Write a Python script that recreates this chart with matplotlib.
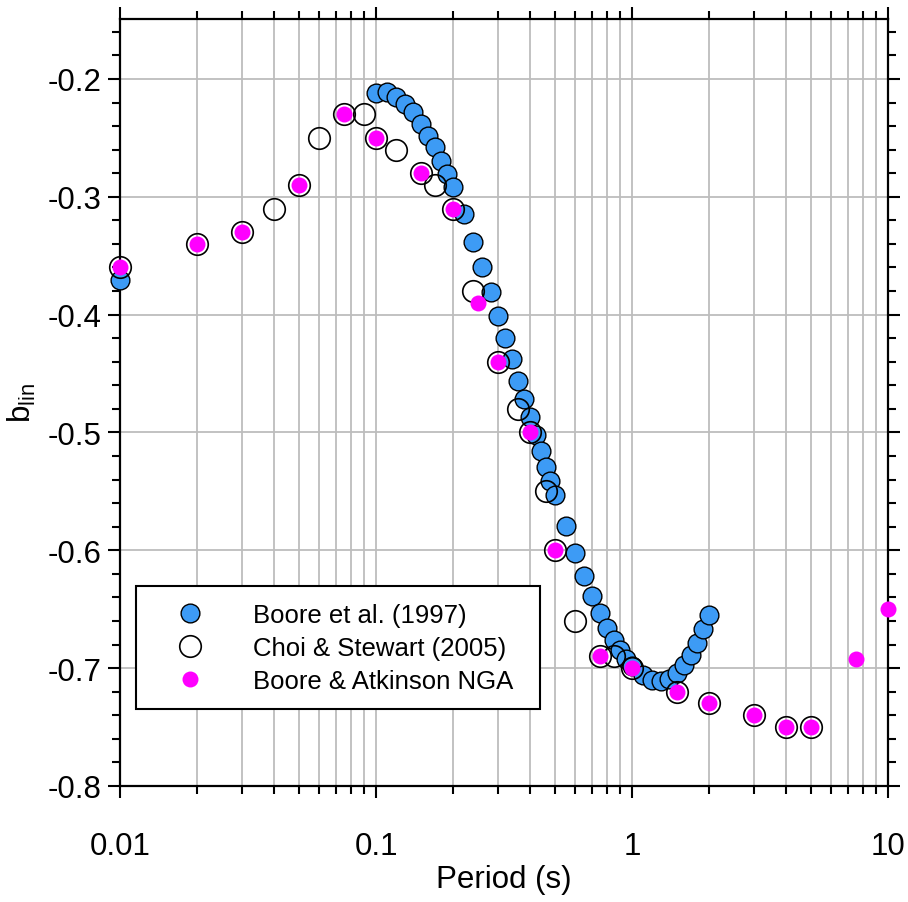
import numpy as np
import matplotlib
matplotlib.use('Agg')
import matplotlib.pyplot as plt
from matplotlib.ticker import FixedLocator, NullFormatter, MultipleLocator

plt.rcParams['font.family'] = ['Liberation Sans', 'DejaVu Sans']
plt.rcParams['mathtext.fontset'] = 'custom'
plt.rcParams['mathtext.rm'] = 'Liberation Sans'
plt.rcParams['axes.unicode_minus'] = False

# Boore et al. (1997)
bjf_period = [0.01, 0.10, 0.11, 0.12, 0.13, 0.14, 0.15, 0.16, 0.17, 0.18, 0.19, 0.20,
              0.22, 0.24, 0.26, 0.28, 0.30, 0.32, 0.34, 0.36, 0.38, 0.40, 0.42, 0.44,
              0.46, 0.48, 0.50, 0.55, 0.60, 0.65, 0.70, 0.75, 0.80, 0.85, 0.90, 0.95,
              1.00, 1.10, 1.20, 1.30, 1.40, 1.50, 1.60, 1.70, 1.80, 1.90, 2.00]
bjf_blin = [-0.371, -0.212, -0.211, -0.215, -0.221, -0.228, -0.238, -0.248, -0.258,
            -0.270, -0.281, -0.292, -0.315, -0.338, -0.360, -0.381, -0.401, -0.420,
            -0.438, -0.456, -0.472, -0.487, -0.502, -0.516, -0.529, -0.541, -0.553,
            -0.579, -0.602, -0.622, -0.639, -0.653, -0.666, -0.676, -0.685, -0.692,
            -0.698, -0.706, -0.710, -0.711, -0.709, -0.704, -0.697, -0.689, -0.679,
            -0.667, -0.655]

# Choi & Stewart (2005)
cs_period = [0.01, 0.02, 0.03, 0.04, 0.05, 0.06, 0.075, 0.09, 0.10, 0.12, 0.15, 0.17,
             0.20, 0.24, 0.30, 0.36, 0.40, 0.46, 0.50, 0.60, 0.75, 0.85, 1.0, 1.5,
             2.0, 3.0, 4.0, 5.0]
cs_blin = [-0.36, -0.34, -0.33, -0.31, -0.29, -0.25, -0.23, -0.23, -0.25, -0.26, -0.28,
           -0.29, -0.31, -0.38, -0.44, -0.48, -0.50, -0.55, -0.60, -0.66, -0.69, -0.69,
           -0.70, -0.72, -0.73, -0.74, -0.75, -0.75]

# Boore & Atkinson NGA
ba_period = [0.01, 0.02, 0.03, 0.05, 0.075, 0.10, 0.15, 0.20, 0.25, 0.30, 0.40, 0.50,
             0.75, 1.0, 1.5, 2.0, 3.0, 4.0, 5.0, 7.5, 10.0]
ba_blin = [-0.36, -0.34, -0.33, -0.29, -0.23, -0.25, -0.28, -0.31, -0.39, -0.44, -0.50,
           -0.60, -0.69, -0.70, -0.72, -0.73, -0.74, -0.75, -0.75, -0.692, -0.65]

fig = plt.figure(figsize=(9.08, 9.03), dpi=100)
ax = fig.add_axes([0.1322, 0.1285, 0.8458, 0.8495])

ax.plot(bjf_period, bjf_blin, 'o', ms=13.5, mfc='#3d9bf5', mec='black', mew=1.0,
        ls='none', label='Boore et al. (1997)', zorder=3, clip_on=False)
ax.plot(cs_period, cs_blin, 'o', ms=15.5, mfc='none', mec='black', mew=1.2,
        ls='none', label='Choi & Stewart (2005)', zorder=4, clip_on=False)
ax.plot(ba_period, ba_blin, 'o', ms=11.5, mfc='#ff00ff', mec='none',
        ls='none', label='Boore & Atkinson NGA', zorder=5, clip_on=False)

ax.set_xscale('log')
ax.set_xlim(0.01, 10)
ax.set_ylim(-0.8, -0.149)

ax.set_xticks([0.01, 0.1, 1, 10])
ax.set_xticklabels(['0.01', '0.1', '1', '10'])
minors = [m * d for d in (0.01, 0.1, 1) for m in range(2, 10)]
ax.xaxis.set_minor_locator(FixedLocator(minors))
ax.xaxis.set_minor_formatter(NullFormatter())

ax.set_yticks(np.arange(-0.8, -0.19, 0.1))
ax.set_yticklabels(['%.1f' % v for v in np.arange(-0.8, -0.19, 0.1)])
ax.yaxis.set_minor_locator(MultipleLocator(0.02))

ax.grid(True, which='major', color='#bdbdbd', lw=1.3, zorder=0)
ax.grid(True, which='minor', axis='x', color='#bdbdbd', lw=1.3, zorder=0)
ax.set_axisbelow(True)

for s in ax.spines.values():
    s.set_linewidth(1.6)

ax.tick_params(which='both', direction='out', top=True, right=True, width=1.5)
ax.tick_params(which='major', length=8.5, labelsize=22.5)
ax.tick_params(which='minor', length=5.5)
ax.tick_params(axis='x', which='major', pad=24)
ax.tick_params(axis='y', which='major', pad=5)

ax.set_xlabel('Period (s)', fontsize=22.5, labelpad=2)
ax.set_ylabel(r'b$_{\mathrm{lin}}$', fontsize=22.5, labelpad=7)

leg = ax.legend(loc='lower left', bbox_to_anchor=(0.021, 0.1, 0.526, 0.16),
                mode='expand', borderaxespad=0,
                fontsize=18.5, fancybox=False, edgecolor='black', framealpha=1,
                handlelength=2.9, handletextpad=1.0, borderpad=0.65,
                labelspacing=0.35, numpoints=1)
leg.get_frame().set_linewidth(1.5)
leg.set_zorder(10)

fig.savefig('out.png', dpi=100)
